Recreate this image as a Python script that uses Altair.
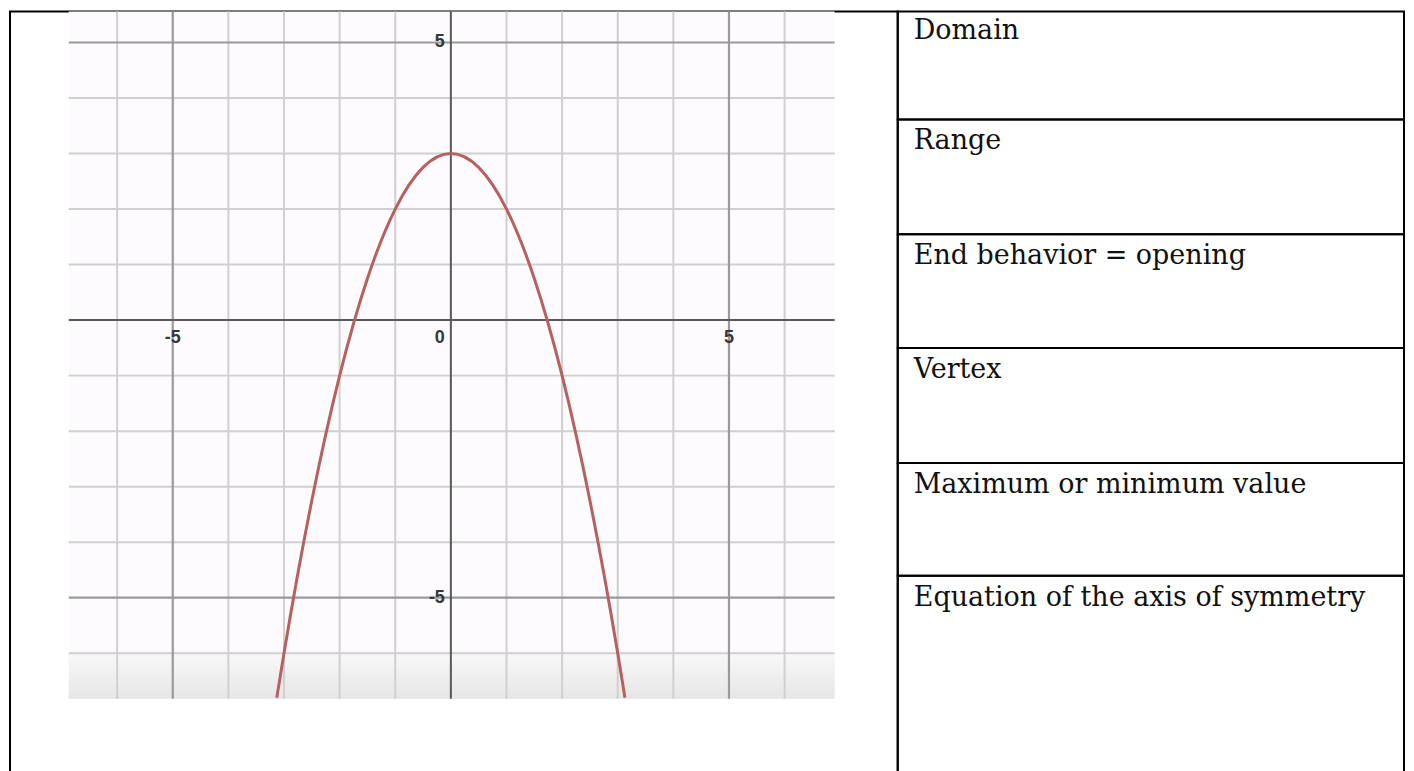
import altair as alt
import pandas as pd

# ---- data ----
curve_x = [-3.13, -3.0, -2.5, -2.0, -1.5, -1.0, -0.5, 0.0, 0.5, 1.0, 1.5, 2.0, 2.5, 3.0, 3.13]
curve_y = [-6.8, -6.0, -3.25, -1.0, 0.75, 2.0, 2.75, 3.0, 2.75, 2.0, 0.75, -1.0, -3.25, -6.0, -6.8]

grid_x = [-6, -4, -3, -2, -1, 1, 2, 3, 4, 6]
grid_y = [-6, -4, -3, -2, -1, 1, 2, 3, 4]
major_vals = [-5, 5]
axis_vals = [0]

x_tick_vals = [-5, 5]
x_tick_text = ["-5", "5"]
origin_text = ["0"]
y_tick_vals = [5, -5]
y_tick_text = ["5", "-5"]

graph_x = [-6.87, 6.90]      # visible x-range of the graph picture
graph_y = [-6.82, 5.557]     # visible y-range of the graph picture
fade_y = [-6.82, -5.95]

row_labels = [
    "Domain",
    "Range",
    "End behavior = opening",
    "Vertex",
    "Maximum or minimum value",
    "Equation of the axis of symmetry",
]

# ---- layout ----
LEFT_W, RIGHT_W = 889, 507
ROW_H = [108, 115, 114, 115, 113, 214]
TEXT_Y = [27, 30, 30, 30, 30, 30]
TOTAL_H = sum(ROW_H)
XD = [-7.926, 8.034]
YD = [-8.453, 5.557]

xs = alt.Scale(domain=XD, nice=False, zero=False)
ys = alt.Scale(domain=YD, nice=False, zero=False)

bg_df = pd.DataFrame({"x": [graph_x[0]], "x2": [graph_x[1]], "y": [graph_y[0]], "y2": [graph_y[1]]})
fade_df = pd.DataFrame({"x": [graph_x[0]], "x2": [graph_x[1]], "y": [fade_y[0]], "y2": [fade_y[1]]})

bg = alt.Chart(bg_df).mark_rect(fill="#fdfbfd").encode(
    x=alt.X("x:Q", scale=xs, axis=None), x2="x2:Q",
    y=alt.Y("y:Q", scale=ys, axis=None), y2="y2:Q")

fade = alt.Chart(fade_df).mark_rect(
    fill=alt.LinearGradient(gradient="linear",
                            stops=[alt.GradientStop(color="#fbf9fb", offset=0),
                                   alt.GradientStop(color="#e6e6e6", offset=1)],
                            x1=0, x2=0, y1=0, y2=1)
).encode(
    x=alt.X("x:Q", scale=xs, axis=None), x2="x2:Q",
    y=alt.Y("y:Q", scale=ys, axis=None), y2="y2:Q")


def vrules(vals, color, width):
    df = pd.DataFrame({"x": vals, "y": graph_y[0], "y2": graph_y[1]})
    return alt.Chart(df).mark_rule(color=color, strokeWidth=width).encode(
        x=alt.X("x:Q", scale=xs, axis=None),
        y=alt.Y("y:Q", scale=ys, axis=None), y2="y2:Q")


def hrules(vals, color, width):
    df = pd.DataFrame({"y": vals, "x": graph_x[0], "x2": graph_x[1]})
    return alt.Chart(df).mark_rule(color=color, strokeWidth=width).encode(
        y=alt.Y("y:Q", scale=ys, axis=None),
        x=alt.X("x:Q", scale=xs, axis=None), x2="x2:Q")


minor_c, major_c, axis_c = "#d0d0d0", "#9a9a9a", "#585858"

curve_df = pd.DataFrame({"x": curve_x, "y": curve_y})
curve = alt.Chart(curve_df).mark_line(color="#b6605f", strokeWidth=3, interpolate="monotone").encode(
    x=alt.X("x:Q", scale=xs, axis=None),
    y=alt.Y("y:Q", scale=ys, axis=None))

lab_style = dict(font="Liberation Sans", fontSize=18, fontWeight="bold", color="#383838")

xlab = alt.Chart(pd.DataFrame({"x": x_tick_vals, "y": 0, "t": x_tick_text})).mark_text(
    align="center", baseline="middle", dy=18, **lab_style).encode(
    x=alt.X("x:Q", scale=xs, axis=None), y=alt.Y("y:Q", scale=ys, axis=None), text="t:N")

olab = alt.Chart(pd.DataFrame({"x": [0], "y": [0], "t": origin_text})).mark_text(
    align="right", baseline="middle", dy=18, dx=-6, **lab_style).encode(
    x=alt.X("x:Q", scale=xs, axis=None), y=alt.Y("y:Q", scale=ys, axis=None), text="t:N")

ylab = alt.Chart(pd.DataFrame({"y": y_tick_vals, "x": 0, "t": y_tick_text})).mark_text(
    align="right", baseline="middle", dx=-6, **lab_style).encode(
    y=alt.Y("y:Q", scale=ys, axis=None), x=alt.X("x:Q", scale=xs, axis=None), text="t:N")

left = alt.layer(
    bg, fade,
    vrules(grid_x, minor_c, 2), hrules(grid_y, minor_c, 2),
    vrules(major_vals, major_c, 2.2), hrules(major_vals, major_c, 2.2),
    vrules(axis_vals, axis_c, 2), hrules(axis_vals, axis_c, 2),
    curve, xlab, olab, ylab,
).properties(width=LEFT_W, height=TOTAL_H)

rows = []
for label, h, ty in zip(row_labels, ROW_H, TEXT_Y):
    rows.append(
        alt.Chart(pd.DataFrame({"t": [label]})).mark_text(
            align="left", baseline="alphabetic", font="DejaVu Serif",
            fontSize=27, color="#111111").encode(
            x=alt.value(16), y=alt.value(ty), text="t:N"
        ).properties(width=RIGHT_W, height=h)
    )

right = alt.vconcat(*rows, spacing=0, bounds="flush")

chart = alt.hconcat(left, right, spacing=0, bounds="flush").properties(
    padding={"left": 1, "top": 0, "right": 1, "bottom": 1}, background="white"
).configure_view(stroke="black", strokeWidth=2)

chart.save("out.html", embed_options={"renderer": "svg", "actions": False})
